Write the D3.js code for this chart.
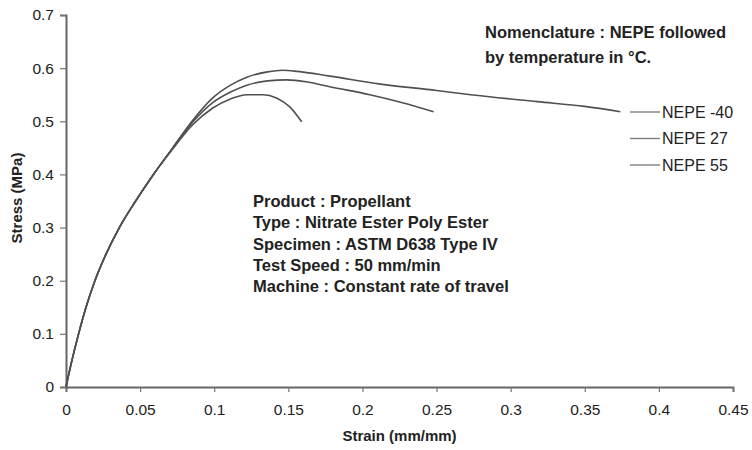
<!DOCTYPE html>
<html>
  <head>
    <meta charset="utf-8">
    <style>
      body { margin: 0; background: #fff; }
      text { font-family: "Liberation Sans", Arial, sans-serif; fill: #222; }
    </style>
  </head>
  <body>
    <script src="https://cdn.jsdelivr.net/npm/d3@7"></script>
    <script>
    // strain (mm/mm), stress (MPa)
    var strainM40 = [0, 0.004, 0.0085, 0.0135, 0.0195, 0.027, 0.036, 0.047, 0.059, 0.072, 0.085, 0.099, 0.111, 0.122, 0.136, 0.146, 0.156, 0.178, 0.212, 0.25, 0.273, 0.318, 0.35, 0.374];
    var stressM40 = [0, 0.05, 0.1, 0.15, 0.2, 0.25, 0.3, 0.35, 0.4, 0.45, 0.5, 0.544, 0.568, 0.583, 0.593, 0.596, 0.594, 0.585, 0.57, 0.558, 0.55, 0.537, 0.528, 0.518];

    var strain27 = [0, 0.004, 0.0085, 0.0135, 0.0195, 0.027, 0.036, 0.047, 0.059, 0.072, 0.085, 0.099, 0.111, 0.122, 0.136, 0.149, 0.163, 0.178, 0.205, 0.227, 0.248];
    var stress27 = [0, 0.05, 0.1, 0.15, 0.2, 0.25, 0.3, 0.35, 0.4, 0.45, 0.497, 0.535, 0.555, 0.568, 0.576, 0.578, 0.574, 0.565, 0.55, 0.535, 0.518];

    var strain55 = [0, 0.004, 0.0085, 0.0135, 0.0195, 0.027, 0.036, 0.047, 0.059, 0.072, 0.085, 0.099, 0.111, 0.122, 0.133, 0.142, 0.151, 0.159];
    var stress55 = [0, 0.05, 0.1, 0.15, 0.2, 0.25, 0.3, 0.35, 0.4, 0.448, 0.492, 0.525, 0.542, 0.55, 0.55, 0.544, 0.527, 0.499];

    var seriesNames = ["NEPE -40", "NEPE 27", "NEPE 55"];
    var xTicks = [0, 0.05, 0.1, 0.15, 0.2, 0.25, 0.3, 0.35, 0.4, 0.45];
    var yTicks = [0, 0.1, 0.2, 0.3, 0.4, 0.5, 0.6, 0.7];

    var noteTop = ["Nomenclature : NEPE followed", "by temperature in \u00B0C."];
    var noteMid = ["Product : Propellant", "Type : Nitrate Ester Poly Ester", "Specimen : ASTM D638 Type IV",
                   "Test Speed : 50 mm/min", "Machine : Constant rate of travel"];

    var W = 752, H = 450;
    var margin = { top: 15, right: 19, bottom: 63, left: 66 },
        width = W - margin.left - margin.right,
        height = H - margin.top - margin.bottom;

    var svg = d3.select("body").append("svg")
        .attr("width", W).attr("height", H)
      .append("g")
        .attr("transform", "translate(" + margin.left + "," + margin.top + ")");

    var x = d3.scaleLinear().domain([0, 0.45]).range([0, width]);
    var y = d3.scaleLinear().domain([0, 0.7]).range([height, 0]);

    var xAxis = svg.append("g")
        .attr("transform", "translate(0," + height + ")")
        .call(d3.axisBottom(x).tickValues(xTicks).tickSize(5).tickPadding(12)
              .tickFormat(function (d) { return d === 0 ? "0" : String(+d.toFixed(2)); }));
    var yAxis = svg.append("g")
        .call(d3.axisLeft(y).tickValues(yTicks).tickSize(6).tickPadding(6)
              .tickFormat(function (d) { return d === 0 ? "0" : String(+d.toFixed(1)); }));

    [xAxis, yAxis].forEach(function (a) {
      a.select(".domain").attr("stroke", "#666").attr("stroke-width", 2);
      a.selectAll(".tick line").attr("stroke", "#777").attr("stroke-width", 1.2);
      a.selectAll(".tick text").style("font-size", "15.5px").attr("fill", "#222");
    });

    svg.append("text")
        .attr("x", width / 2 - 66 + 66).attr("y", 441 - margin.top)
        .attr("text-anchor", "middle")
        .style("font-size", "15px").style("font-weight", "bold")
        .text("Strain (mm/mm)");
    svg.append("text")
        .attr("transform", "translate(" + (22 - margin.left) + "," + (198 - margin.top) + ") rotate(-90)")
        .attr("text-anchor", "middle")
        .style("font-size", "15px").style("font-weight", "bold")
        .text("Stress (MPa)");

    var series = [
      { name: seriesNames[0], xs: strainM40, ys: stressM40 },
      { name: seriesNames[1], xs: strain27, ys: stress27 },
      { name: seriesNames[2], xs: strain55, ys: stress55 }
    ];

    var line = d3.line()
        .curve(d3.curveMonotoneX)
        .x(function (d) { return x(d[0]); })
        .y(function (d) { return y(d[1]); });

    series.forEach(function (s) {
      svg.append("path")
        .datum(d3.zip(s.xs, s.ys))
        .attr("fill", "none")
        .attr("stroke", "#505050")
        .attr("stroke-width", 1.6)
        .attr("d", line);
    });

    // legend
    var legend = svg.append("g").attr("transform", "translate(" + (630 - margin.left) + "," + (112 - margin.top) + ")");
    series.forEach(function (s, i) {
      var g = legend.append("g").attr("transform", "translate(0," + (i * 26.5) + ")");
      g.append("line").attr("x1", 0).attr("x2", 30).attr("y1", 0).attr("y2", 0)
        .attr("stroke", "#808080").attr("stroke-width", 1.4);
      g.append("text").attr("x", 32).attr("y", 5.5).style("font-size", "16px").text(s.name);
    });

    // notes
    svg.selectAll(".noteTop").data(noteTop).enter().append("text")
        .attr("x", 485 - margin.left)
        .attr("y", function (d, i) { return 38 - margin.top + i * 25; })
        .style("font-size", "16.5px").style("font-weight", "bold")
        .text(function (d) { return d; });

    svg.selectAll(".noteMid").data(noteMid).enter().append("text")
        .attr("x", 253 - margin.left)
        .attr("y", function (d, i) { return 207 - margin.top + i * 21.3; })
        .style("font-size", "16.5px").style("font-weight", "bold")
        .text(function (d) { return d; });
    </script>
  </body>
</html>
